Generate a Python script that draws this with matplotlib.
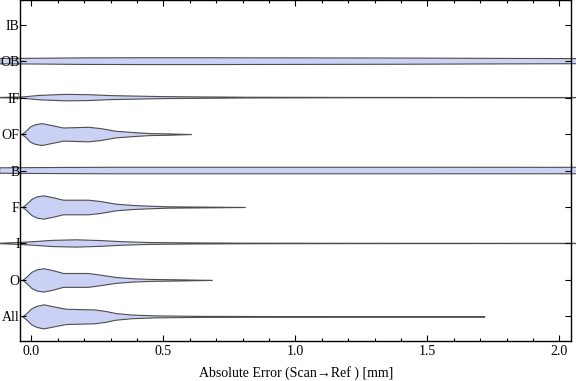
import numpy as np
import matplotlib
matplotlib.use("Agg")
import matplotlib.pyplot as plt
from matplotlib.ticker import MultipleLocator

plt.rcParams["font.family"] = ["Liberation Serif", "DejaVu Serif"]

# categories bottom -> top
categories = ["All", "O", "I", "F", "B", "OF", "IF", "OB", "IB"]

# violin outlines: error value [mm] and half width (in row units)
all_x = [-0.035, -0.02, 0.0, 0.02, 0.047, 0.08, 0.13, 0.18, 0.24, 0.28, 0.32, 0.38, 0.47, 0.64, 1.0, 1.4, 1.716]
all_w = [0.0, 0.08, 0.22, 0.29, 0.33, 0.28, 0.21, 0.20, 0.19, 0.15, 0.09, 0.05, 0.027, 0.014, 0.008, 0.004, 0.0]

o_x = [-0.035, -0.02, 0.0, 0.02, 0.045, 0.08, 0.12, 0.17, 0.215, 0.26, 0.32, 0.385, 0.45, 0.57, 0.683]
o_w = [0.0, 0.08, 0.22, 0.29, 0.32, 0.27, 0.19, 0.19, 0.19, 0.145, 0.08, 0.045, 0.027, 0.015, 0.0]

i_x = [-0.12, -0.04, 0.0, 0.08, 0.17, 0.26, 0.34, 0.44, 0.6, 0.82, 1.2, 1.6, 2.1]
i_w = [0.005, 0.03, 0.045, 0.085, 0.10, 0.08, 0.05, 0.027, 0.015, 0.008, 0.005, 0.004, 0.003]

f_x = [-0.035, -0.02, 0.0, 0.02, 0.045, 0.08, 0.12, 0.17, 0.215, 0.26, 0.32, 0.385, 0.45, 0.51, 0.58, 0.70, 0.808]
f_w = [0.0, 0.08, 0.22, 0.29, 0.32, 0.27, 0.20, 0.20, 0.20, 0.165, 0.09, 0.055, 0.035, 0.02, 0.015, 0.008, 0.0]

b_x = [-0.12, 0.0, 0.15, 0.33, 0.8, 1.4, 2.1]
b_w = [0.075, 0.08, 0.085, 0.09, 0.09, 0.09, 0.088]

of_x = [-0.038, -0.024, -0.005, 0.014, 0.04, 0.07, 0.12, 0.17, 0.215, 0.26, 0.32, 0.385, 0.45, 0.51, 0.605]
of_w = [0.0, 0.07, 0.21, 0.27, 0.30, 0.255, 0.18, 0.19, 0.20, 0.165, 0.09, 0.055, 0.027, 0.02, 0.0]

if_x = [-0.12, -0.03, 0.03, 0.13, 0.22, 0.3, 0.5, 0.82, 1.2, 1.6, 2.1]
if_w = [0.004, 0.02, 0.06, 0.09, 0.08, 0.055, 0.027, 0.01, 0.005, 0.004, 0.003]

ob_x = [-0.12, 0.0, 0.2, 0.5, 1.0, 1.4, 1.8, 2.1]
ob_w = [0.075, 0.078, 0.09, 0.095, 0.09, 0.085, 0.075, 0.07]

ib_x = []
ib_w = []

outlines = [(all_x, all_w), (o_x, o_w), (i_x, i_w), (f_x, f_w), (b_x, b_w),
            (of_x, of_w), (if_x, if_w), (ob_x, ob_w), (ib_x, ib_w)]

fig = plt.figure(figsize=(5.76, 3.81), dpi=100)
ax = fig.add_axes([0.0353, 0.1058, 0.9565, 0.8932])
ax.set_axisbelow(False)  # tick labels on top of the bands

for pos, (xs, ws) in enumerate(outlines, start=1):
    if len(xs) == 0:
        continue
    xs = np.array(xs)
    ws = np.array(ws)
    ax.fill_between(xs, pos - ws, pos + ws, facecolor="#cbd0f5", edgecolor="#4d4d4d",
                    linewidth=0.8, clip_on=False, zorder=2)

ax.set_xlim(-0.0417, 2.045)
ax.set_ylim(1 - 2 / 3, 9 + 2 / 3)

ax.set_yticks(range(1, len(categories) + 1))
ax.set_yticklabels(categories)
ax.xaxis.set_major_locator(MultipleLocator(0.5))
ax.xaxis.set_minor_locator(MultipleLocator(0.1))
ax.xaxis.set_major_formatter(matplotlib.ticker.FormatStrFormatter("%.1f"))
ax.tick_params(axis="both", which="both", direction="in", top=True, right=True,
               labelsize=10, width=0.8)
ax.tick_params(axis="x", pad=3)
ax.tick_params(axis="y", pad=0.5)
ax.tick_params(axis="both", which="major", length=4)
ax.tick_params(axis="x", which="minor", length=2.5)

for sp in ax.spines.values():
    sp.set_linewidth(1.0)
    sp.set_color("black")

ax.set_xlabel("Absolute Error (Scan\u2192Ref ) [mm]", fontsize=10, labelpad=6)

fig.savefig("out.png", dpi=100)
